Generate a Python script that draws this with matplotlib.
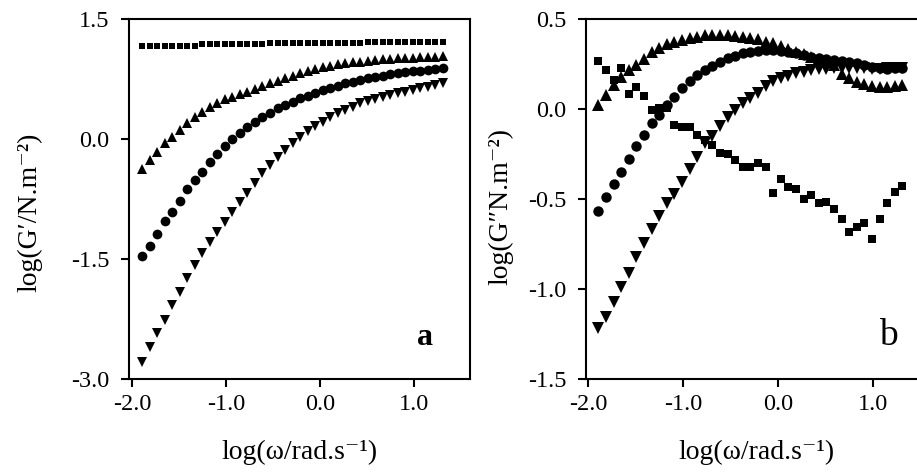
import matplotlib
matplotlib.use("Agg")
import matplotlib.pyplot as plt

plt.rcParams['font.family'] = ['Liberation Serif', 'DejaVu Serif']
plt.rcParams['axes.unicode_minus'] = False

# log(omega) grid shared by all series
log_w = [-1.89, -1.81, -1.73, -1.65, -1.57, -1.49, -1.41, -1.33, -1.25, -1.17,
         -1.09, -1.01, -0.93, -0.85, -0.77, -0.69, -0.61, -0.53, -0.45, -0.37,
         -0.29, -0.21, -0.13, -0.05, 0.03, 0.11, 0.19, 0.27, 0.35, 0.43,
         0.51, 0.59, 0.67, 0.75, 0.83, 0.91, 0.99, 1.07, 1.15, 1.23, 1.31]

# panel a : log G'
a_square = [1.166, 1.166, 1.166, 1.166, 1.166, 1.166, 1.166, 1.166, 1.185, 1.186,
            1.187, 1.188, 1.189, 1.190, 1.191, 1.192, 1.193, 1.194, 1.195, 1.196,
            1.197, 1.198, 1.199, 1.200, 1.201, 1.202, 1.203, 1.204, 1.205, 1.206,
            1.207, 1.208, 1.209, 1.210, 1.211, 1.212, 1.213, 1.214, 1.215, 1.216, 1.217]
a_up = [-0.379, -0.263, -0.158, -0.054, 0.029, 0.113, 0.196, 0.279, 0.342, 0.404,
        0.454, 0.496, 0.529, 0.563, 0.592, 0.621, 0.663, 0.696, 0.729, 0.758,
        0.788, 0.821, 0.850, 0.875, 0.896, 0.913, 0.933, 0.946, 0.958, 0.967,
        0.975, 0.988, 0.996, 1.000, 1.008, 1.013, 1.017, 1.021, 1.025, 1.029, 1.040]
a_circle = [-1.463, -1.333, -1.192, -1.021, -0.908, -0.775, -0.629, -0.513, -0.408, -0.283,
            -0.188, -0.088, -0.004, 0.079, 0.154, 0.217, 0.279, 0.329, 0.383, 0.425,
            0.467, 0.508, 0.542, 0.579, 0.613, 0.642, 0.667, 0.696, 0.717, 0.738,
            0.758, 0.779, 0.792, 0.808, 0.821, 0.833, 0.846, 0.854, 0.863, 0.871, 0.883]
a_down = [-2.783, -2.596, -2.429, -2.263, -2.075, -1.908, -1.742, -1.575, -1.429, -1.283,
          -1.158, -1.033, -0.908, -0.783, -0.671, -0.554, -0.429, -0.325, -0.221, -0.138,
          -0.054, 0.029, 0.104, 0.163, 0.217, 0.279, 0.321, 0.363, 0.404, 0.446,
          0.479, 0.504, 0.529, 0.550, 0.571, 0.592, 0.613, 0.633, 0.654, 0.675, 0.696]

# panel b : log G''
b_square = [0.268, 0.217, 0.161, 0.226, 0.083, 0.120, 0.072, -0.006, 0.004, 0.004,
            -0.089, -0.098, -0.098, -0.144, -0.172, -0.200, -0.246, -0.250, -0.283, -0.320,
            -0.324, -0.298, -0.324, -0.465, -0.391, -0.431, -0.444, -0.502, -0.478, -0.524,
            -0.519, -0.556, -0.613, -0.683, -0.654, -0.635, -0.724, -0.613, -0.520, -0.463, -0.426]
b_up = [0.022, 0.078, 0.133, 0.180, 0.217, 0.244, 0.276, 0.319, 0.341, 0.359,
        0.370, 0.383, 0.393, 0.402, 0.409, 0.413, 0.413, 0.409, 0.406, 0.402,
        0.396, 0.387, 0.374, 0.365, 0.350, 0.333, 0.319, 0.304, 0.291, 0.278,
        0.263, 0.244, 0.194, 0.174, 0.152, 0.139, 0.128, 0.120, 0.120, 0.128, 0.133]
b_circle = [-0.565, -0.491, -0.419, -0.348, -0.280, -0.206, -0.144, -0.080, -0.033, 0.020,
            0.069, 0.115, 0.156, 0.189, 0.217, 0.241, 0.263, 0.281, 0.294, 0.309,
            0.319, 0.324, 0.328, 0.328, 0.324, 0.319, 0.309, 0.300, 0.287, 0.281,
            0.276, 0.272, 0.267, 0.263, 0.254, 0.244, 0.235, 0.226, 0.222, 0.226, 0.230]
b_down = [-1.219, -1.154, -1.070, -0.987, -0.909, -0.820, -0.746, -0.669, -0.594, -0.524,
          -0.472, -0.404, -0.335, -0.265, -0.191, -0.150, -0.094, -0.046, -0.006, 0.031,
          0.059, 0.087, 0.130, 0.155, 0.170, 0.185, 0.198, 0.207, 0.215, 0.220,
          0.224, 0.226, 0.226, 0.226, 0.226, 0.226, 0.222, 0.222, 0.226, 0.226, 0.226]

fig = plt.figure(figsize=(9.17, 4.72), dpi=100)
ax1 = fig.add_axes([129 / 917, 93 / 472, 341 / 917, 360 / 472])
ax2 = fig.add_axes([586 / 917, 93 / 472, 341 / 917, 360 / 472])


def draw(ax, sq, up, circ, down, sq_size, mk_size):
    ax.plot(log_w, sq, ls='none', marker='s', ms=sq_size, mfc='black', mec='black', mew=0)
    ax.plot(log_w, up, ls='none', marker='^', ms=mk_size, mfc='black', mec='black', mew=0)
    ax.plot(log_w, circ, ls='none', marker='o', ms=mk_size - 0.5, mfc='black', mec='black', mew=0)
    ax.plot(log_w, down, ls='none', marker='v', ms=mk_size, mfc='black', mec='black', mew=0)
    ax.set_xticks([-2.0, -1.0, 0.0, 1.0])
    ax.set_xticklabels(['-2.0', '-1.0', '0.0', '1.0'])
    ax.tick_params(direction='out', length=6, width=1.5, labelsize=17.5)
    ax.tick_params(axis='x', pad=5)
    ax.tick_params(axis='y', pad=8)
    for s in ax.spines.values():
        s.set_linewidth(1.5)
    ax.set_xlabel('log(\u03c9/rad.s\u207b\u00b9)', fontsize=20)
    ax.xaxis.set_label_coords(0.5, -0.168)


draw(ax1, a_square, a_up, a_circle, a_down, 5, 7.5)
ax1.set_xlim(-2.03, 1.598)
ax1.set_ylim(-3.0, 1.5)
ax1.set_yticks([-3.0, -1.5, 0.0, 1.5])
ax1.set_yticklabels(['-3.0', '-1.5', '0.0', '1.5'])
ax1.set_ylabel('log(G\u2032/N.m\u207b\u00b2)', fontsize=20)
ax1.yaxis.set_label_coords(-0.255, 0.464)
ax1.text(1.12, -2.575, 'a', fontsize=23, fontweight='bold', ha='center', va='baseline')

draw(ax2, b_square, b_up, b_circle, b_down, 6, 8)
ax2.set_xlim(-2.02, 1.57)
ax2.set_ylim(-1.5, 0.5)
ax2.set_yticks([-1.5, -1.0, -0.5, 0.0, 0.5])
ax2.set_yticklabels(['-1.5', '-1.0', '-0.5', '0.0', '0.5'])
ax2.set_ylabel('log(G\u2033N.m\u207b\u00b2)', fontsize=20)
ax2.yaxis.set_label_coords(-0.214, 0.478)
ax2.text(1.16, -1.311, 'b', fontsize=27, ha='center', va='baseline')

fig.savefig('out.png', dpi=100)
